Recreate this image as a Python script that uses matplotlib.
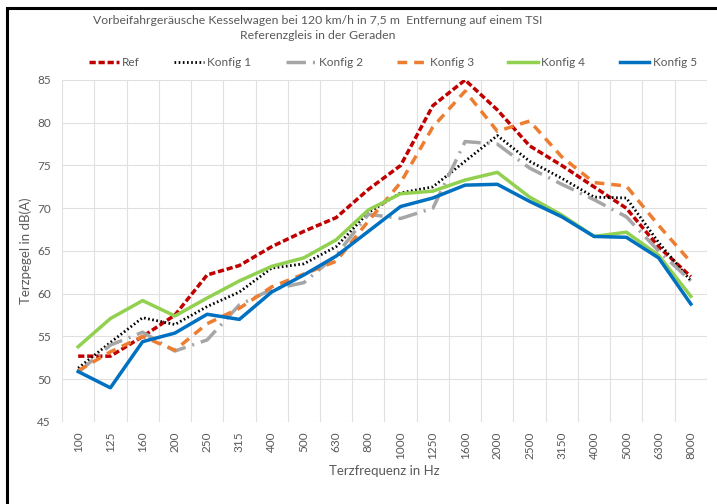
import numpy as np
import matplotlib
matplotlib.use('Agg')
import matplotlib.pyplot as plt
from matplotlib.patches import Rectangle

plt.rcParams['font.family'] = ['Lato', 'DejaVu Sans']
plt.rcParams['lines.scale_dashes'] = False

#-----------------
# Data
#-----------------
freqs = ['100', '125', '160', '200', '250', '315', '400', '500', '630', '800',
         '1000', '1250', '1600', '2000', '2500', '3150', '4000', '5000', '6300', '8000']

ref = [52.7, 52.7, 55.0, 57.5, 62.2, 63.3, 65.5, 67.3, 68.9, 72.2,
       75.0, 82.0, 85.0, 81.5, 77.3, 75.0, 72.5, 70.0, 65.5, 62.0]
konfig1 = [51.3, 54.3, 57.2, 56.4, 58.5, 60.2, 63.0, 63.5, 65.5, 69.5,
           71.8, 72.5, 75.5, 78.5, 75.5, 73.5, 71.3, 71.2, 66.0, 61.5]
konfig2 = [50.8, 54.0, 55.5, 53.3, 54.6, 58.7, 60.5, 61.3, 64.5, 69.3,
           68.8, 70.0, 77.8, 77.5, 74.7, 72.8, 71.0, 69.0, 65.0, 61.5]
konfig3 = [51.0, 53.2, 55.0, 53.4, 56.5, 58.3, 60.8, 62.3, 63.8, 68.5,
           73.0, 79.5, 83.7, 79.0, 80.2, 76.0, 73.0, 72.6, 68.0, 63.7]
konfig4 = [53.8, 57.1, 59.2, 57.4, 59.5, 61.5, 63.2, 64.2, 66.3, 69.8,
           71.7, 72.0, 73.3, 74.2, 71.3, 69.2, 66.7, 67.2, 64.5, 59.7]
konfig5 = [50.9, 49.0, 54.4, 55.4, 57.6, 57.0, 60.2, 62.2, 64.4, 67.3,
           70.2, 71.2, 72.7, 72.8, 70.8, 69.0, 66.7, 66.6, 64.2, 58.8]

title = ('Vorbeifahrgeräusche Kesselwagen bei 120 km/h in 7,5 m  Entfernung auf einem TSI\n'
         'Referenzgleis in der Geraden')

#-----------------
# Plot
#-----------------
fig = plt.figure(figsize=(7.17, 5.04), dpi=100)
ax = fig.add_axes([0.0865, 0.1627, 0.8995, 0.6786])
x = np.arange(len(freqs))

ax.plot(x, ref, color='#C00000', lw=2.5, dashes=(4.5, 2), label='Ref')
ax.plot(x, konfig1, color='black', lw=2, dashes=(1.2, 1.8), label='Konfig 1')
ax.plot(x, konfig2, color='#A6A6A6', lw=2.5, dashes=(14, 5, 1.5, 5), label='Konfig 2')
ax.plot(x, konfig3, color='#ED7D31', lw=2.5, dashes=(7, 5), label='Konfig 3')
ax.plot(x, konfig4, color='#92D050', lw=2.5, label='Konfig 4')
ax.plot(x, konfig5, color='#0070C0', lw=2.5, label='Konfig 5')

ax.set_xlim(-0.5, len(freqs) - 0.5)
ax.set_ylim(45, 85)
ax.set_yticks(range(45, 86, 5))
ax.set_xticks(x)
ax.set_xticklabels(freqs, rotation=90)
ax.set_xticks(np.arange(-0.5, len(freqs), 1), minor=True)
ax.grid(True, which='major', axis='y', color='#E0E0E0', lw=0.8)
ax.grid(True, which='minor', axis='x', color='#E0E0E0', lw=0.8)
ax.tick_params(which='both', length=0, colors='#595959', labelsize=8.5)
ax.tick_params(axis='x', pad=7)
ax.tick_params(axis='y', pad=8)
for s in ax.spines.values():
    s.set_visible(False)
ax.set_axisbelow(True)

ax.set_xlabel('Terzfrequenz in Hz', color='#595959', fontsize=9.5, labelpad=4)
ax.set_ylabel('Terzpegel in dB(A)', color='#595959', fontsize=9.5, labelpad=4)

fig.text(0.443, 0.944, title, ha='center', va='center', fontsize=8.8,
         color='#595959', linespacing=1.5)

fig.legend(loc='center', bbox_to_anchor=(0.548, 0.875), ncol=6, frameon=False,
           handlelength=2.5, columnspacing=2.9, handletextpad=0.3,
           fontsize=8.5, labelcolor='#595959')

# outer chart frame
fig.patches.append(Rectangle((7 / 717, -0.1), 1.2, (504 - 8) / 504 + 0.1,
                             transform=fig.transFigure, fill=False,
                             edgecolor='black', lw=2.2))

fig.savefig('out.png', dpi=100)
